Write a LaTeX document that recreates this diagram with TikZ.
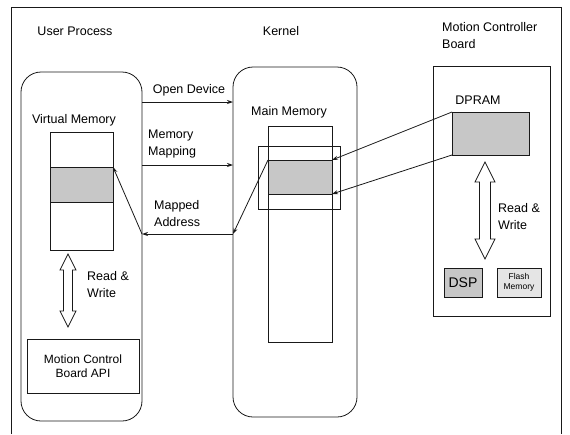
\documentclass[tikz,border=0pt]{standalone}
\usepackage{fontspec}
\setmainfont{Liberation Sans}
\usetikzlibrary{arrows.meta}
\newcommand\blockdarrow[6]{% x, ytop, ybot, shaft hw, head hw, head len
  \draw[boxline,fill=white] (#1,#2) -- (#1+#5,#2+#6) -- (#1+#4,#2+#6) -- (#1+#4,#3-#6) -- (#1+#5,#3-#6)
    -- (#1,#3) -- (#1-#5,#3-#6) -- (#1-#4,#3-#6) -- (#1-#4,#2+#6) -- (#1-#5,#2+#6) -- cycle;}
\begin{document}
\begin{tikzpicture}[x=1pt,y=-1pt,
  boxline/.style={draw=black!90,line width=0.8pt},
  rbox/.style={boxline,rounded corners=20pt,inner sep=0pt,outer sep=0pt},
  sbox/.style={boxline,inner sep=0pt,outer sep=0pt},
  shade/.style={sbox,fill=black!22},
  lbl/.style={font=\fontsize{12.5}{17}\selectfont,inner sep=0pt,align=left},
  arr/.style={boxline,-{Stealth[length=6pt,width=4pt]}}]
\useasboundingbox (0,0) rectangle (570,434);
% outer frame
\draw[boxline] (11,434) -- (11,7) -- (561,7) -- (561,434);
% headings
\node[lbl] (hup) at (75,31) {User Process};
\node[lbl] (hk) at (281,31) {Kernel};
\node[lbl,anchor=west] (hmb) at (442,36) {Motion Controller\\Board};
% main containers
\node[rbox,minimum width=121pt,minimum height=349pt] (user) at (81.5,246.5) {};
\node[rbox,minimum width=124pt,minimum height=350pt] (kernel) at (295,242) {};
\node[sbox,minimum width=117pt,minimum height=250pt] (board) at (491.5,191) {};
% user process contents
\node[lbl] (vml) at (74,120) {Virtual Memory};
\node[sbox,minimum width=63pt,minimum height=118pt] (vm) at (81.5,191) {};
\node[shade,minimum width=63pt,minimum height=35pt] (vmband) at (81.5,184.5) {};
\node[sbox,minimum width=112pt,minimum height=54pt,align=center,font=\fontsize{12}{14.5}\selectfont] (api) at (83,366) {Motion Control\\Board API};
\blockdarrow{68}{254}{327}{4.5}{8}{16}
\node[lbl,anchor=north west] (rw1) at (87,271) {Read \&\\Write};
% kernel contents
\node[lbl] (mml) at (289,112) {Main Memory};
\node[sbox,minimum width=64pt,minimum height=216pt] (mm) at (300,234) {};
\node[sbox,minimum width=82pt,minimum height=63pt] (mmframe) at (299,177.5) {};
\node[shade,minimum width=64pt,minimum height=34pt] (mmband) at (300,177) {};
% board contents
\node[lbl] (dpl) at (478,100) {DPRAM};
\node[shade,minimum width=77pt,minimum height=43pt] (dpram) at (490.5,133.5) {};
\blockdarrow{485}{162}{259}{5.5}{10}{20}
\node[lbl,anchor=north west] (rw2) at (498,203) {Read \&\\Write};
\node[shade,minimum width=38pt,minimum height=29pt,font=\fontsize{14}{14}\selectfont] (dsp) at (463,282.5) {DSP};
\node[sbox,fill=black!10,minimum width=44pt,minimum height=29pt,align=center,font=\fontsize{8.5}{10}\selectfont] (flash) at (519,282.5) {Flash\\Memory};
% connectors
\coordinate (yod) at (0,102);
\coordinate (ymm) at (0,165);
\coordinate (yma) at (0,234);
\draw[arr] (user.east |- yod) -- (kernel.west |- yod);
\draw[arr] (user.east |- ymm) -- (kernel.west |- ymm);
\node[lbl,anchor=south] (odl) at (189,96) {Open Device};
\node[lbl,anchor=north west] (mml2) at (148,130) {Memory\\Mapping};
\node[lbl,anchor=north west] (mal) at (154,200) {Mapped\\Address};
\draw[arr] (mmband.north west) -- (kernel.west |- yma);
\draw[arr] (kernel.west |- yma) -- (user.east |- yma);
\draw[arr] (user.east |- yma) -- (vmband.north east);
\draw[arr] (dpram.north west) -- (mmband.north east);
\draw[arr] (dpram.south west) -- (mmband.south east);
\end{tikzpicture}
\end{document}
